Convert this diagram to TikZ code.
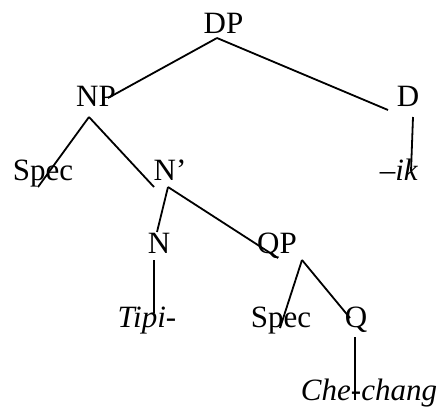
\documentclass[tikz,border=0pt]{standalone}
\usepackage{fontspec}
\setmainfont{Liberation Serif}
\usetikzlibrary{calc}
\begin{document}
\begin{tikzpicture}[x=1pt,y=-1pt,
  lab/.style={anchor=base,inner sep=0pt,font=\fontsize{31}{37}\selectfont},
  br/.style={line width=1.8pt}]
\useasboundingbox (0,0) rectangle (443,408);
\node[lab] (DP) at (223.5,33.3) {DP};
\node[lab] (NP) at (96,106) {NP};
\node[lab] (D) at (408,106) {D};
\node[lab] (S1) at (43,180) {Spec};
\node[lab] (Nb) at (170,180) {N’};
\node[lab] (ik) at (399,180) {–\textit{ik}};
\node[lab] (N) at (159,253) {N};
\node[lab] (QP) at (277,253) {QP};
\node[lab] (Ti) at (147,327) {\textit{Tipi}-};
\node[lab] (S2) at (281,327) {Spec};
\node[lab] (Q) at (356,327) {Q};
\node[lab] (Ch) at (369,400) {\textit{Che-chang}};
\draw[br] ($(DP.base)+(-6.5,4.7)$) -- ($(NP.base)+(12,-8)$);
\draw[br] ($(DP.base)+(-6.5,4.7)$) -- ($(D.base)+(-20,4)$);
\draw[br] ($(D.base)+(5,11)$) -- ($(ik.base)+(12,-9)$);
\draw[br] ($(NP.base)+(-7,11)$) -- ($(S1.base)+(-5,7)$);
\draw[br] ($(NP.base)+(-7,11)$) -- ($(Nb.base)+(-16,7)$);
\draw[br] ($(Nb.base)+(-2,7)$) -- ($(N.base)+(-2,-21)$);
\draw[br] ($(Nb.base)+(-2,7)$) -- ($(QP.base)+(1,5)$);
\draw[br] ($(N.base)+(-5,7)$) -- ($(Ti.base)+(7,-14)$);
\draw[br] ($(QP.base)+(25,7)$) -- ($(S2.base)+(-1,1)$);
\draw[br] ($(QP.base)+(25,7)$) -- ($(Q.base)+(-6,-9)$);
\draw[br] ($(Q.base)+(-1,10)$) -- ($(Ch.base)+(-14,0)$);
\end{tikzpicture}
\end{document}
